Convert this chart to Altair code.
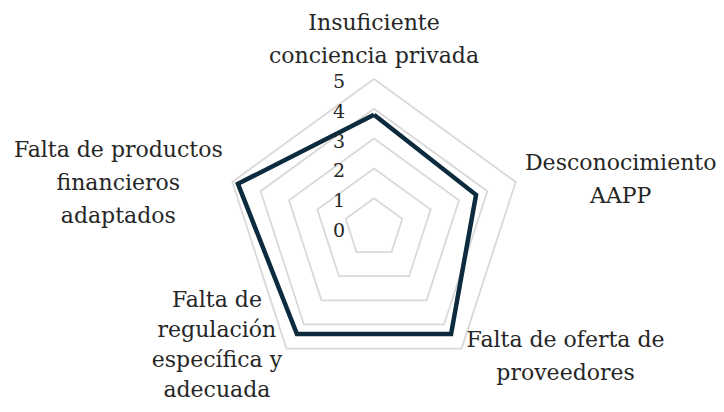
import math
import altair as alt
import pandas as pd

# ---- data ----
categories = [
    "Insuficiente conciencia privada",
    "Desconocimiento AAPP",
    "Falta de oferta de proveedores",
    "Falta de regulación específica y adecuada",
    "Falta de productos financieros adaptados",
]
label_text = [
    "Insuficiente\nconciencia privada",
    "Desconocimiento\nAAPP",
    "Falta de oferta de\nproveedores",
    "Falta de\nregulación\nespecífica y\nadecuada",
    "Falta de productos\nfinancieros\nadaptados",
]
values = [3.8, 3.6, 4.4, 4.4, 4.8]
grid_levels = [1, 2, 3, 4, 5]
tick_labels = [0, 1, 2, 3, 4, 5]
r_max = 5

# ---- layout (not data) ----
W, H = 708, 396
cx, cy = 366, 220
u = 29.8
xdom = [-cx / u, (W - cx) / u]
ydom = [-(H - cy) / u, cy / u]
FONT = "DejaVu Serif"
TXT = "#262626"
n = len(categories)

xs = alt.Scale(domain=xdom, nice=False, zero=False)
ys = alt.Scale(domain=ydom, nice=False, zero=False)

def xy(df):
    return df.transform_calculate(
        ang=f"datum.idx * 2 * PI / {n}"
    ).transform_calculate(
        px="datum.r * sin(datum.ang)", py="datum.r * cos(datum.ang)"
    )

# series
ser = pd.DataFrame({
    "idx": list(range(n)) + [0],
    "ord": list(range(n + 1)),
    "r": values + [values[0]],
    "cat": categories + [categories[0]],
})
# grid
grid_rows = []
for lv in grid_levels:
    for k in range(n + 1):
        grid_rows.append({"level": lv, "idx": k % n, "ord": k, "r": lv})
grid = pd.DataFrame(grid_rows)

enc = dict(
    x=alt.X("px:Q", scale=xs, axis=None),
    y=alt.Y("py:Q", scale=ys, axis=None),
)

grid_layer = xy(alt.Chart(grid)).mark_line(
    color="#d9d9d9", strokeWidth=1.8
).encode(detail="level:N", order="ord:Q", **enc)

line_layer = xy(alt.Chart(ser)).mark_line(
    color="#0d2b3e", strokeWidth=4.5, strokeJoin="miter"
).encode(order="ord:Q", **enc)

ticks = pd.DataFrame({"r": tick_labels, "idx": [0] * len(tick_labels), "t": [str(t) for t in tick_labels]})
tick_layer = xy(alt.Chart(ticks)).mark_text(
    font=FONT, fontSize=19, color=TXT, align="right", baseline="middle", dx=-29, dy=3
).encode(text="t:N", **enc)

lab = pd.DataFrame({"idx": list(range(n)), "r": [r_max] * n, "lab": label_text})
# (dx, dy of first line from outer vertex, line height)
offsets = [(0, -56.5, 33), (105, -18.5, 33), (104, -9, 33), (-69.5, -48.5, 30), (-114, -32, 33)]
label_layers = []
for i, (dx, dy, lh) in enumerate(offsets):
    label_layers.append(
        xy(alt.Chart(lab)).transform_filter(f"datum.idx == {i}").mark_text(
            font=FONT, fontSize=22, color=TXT, align="center", baseline="middle",
            lineBreak="\n", lineHeight=lh, dx=dx, dy=dy
        ).encode(text="lab:N", **enc)
    )

chart = alt.layer(grid_layer, line_layer, tick_layer, *label_layers).properties(
    width=W, height=H, autosize=alt.AutoSizeParams(type="none"), padding=0
).configure_view(stroke=None)

chart.save("out.html", embed_options={"renderer": "svg", "actions": False})
